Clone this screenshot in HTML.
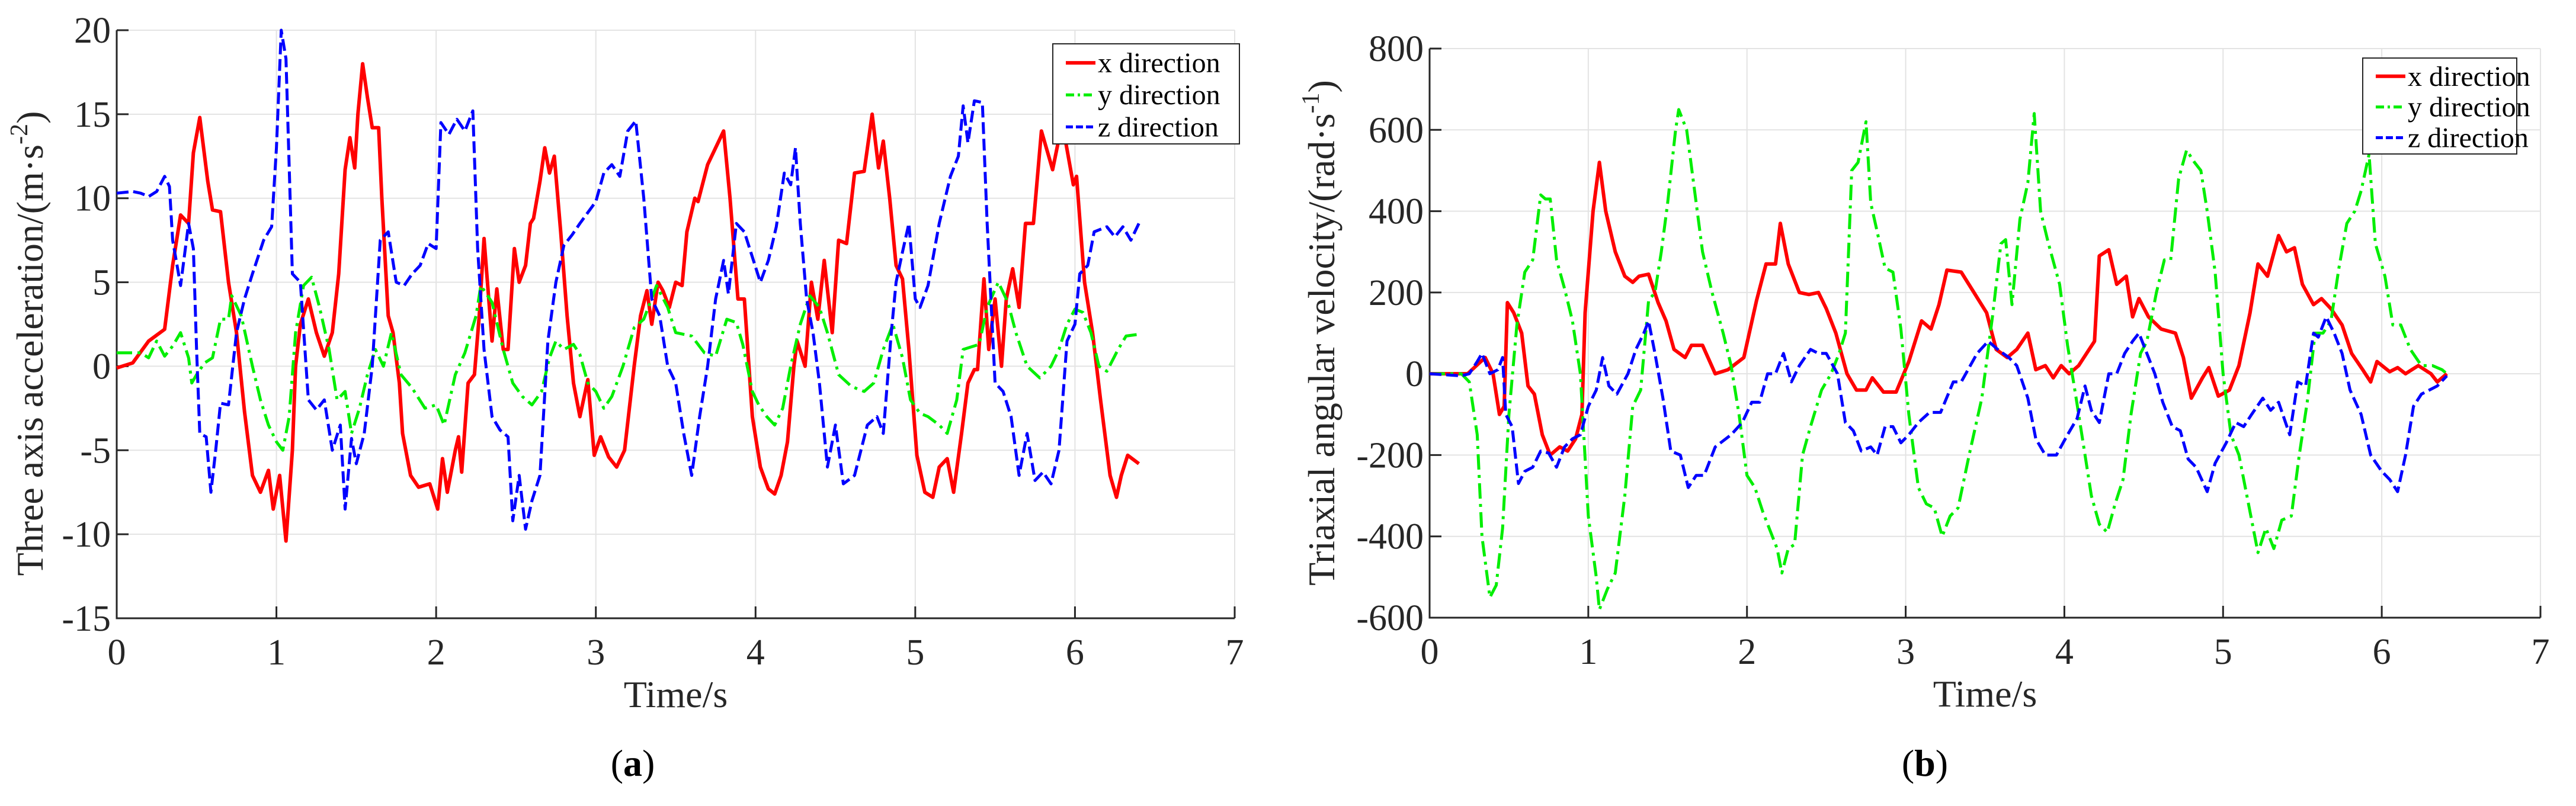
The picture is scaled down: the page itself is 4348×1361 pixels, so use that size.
<!DOCTYPE html>
<html><head><meta charset="utf-8"><style>
html,body{margin:0;padding:0;background:#fff;}
svg{display:block;font-family:"Liberation Serif",serif;}
</style></head><body>
<svg id="fig" width="4348" height="1361" viewBox="0 0 4348 1361" xmlns="http://www.w3.org/2000/svg">
<g id="chartA"></g>
<g id="chartB"></g>
<text x="1068" y="1310" font-size="64" text-anchor="middle">(<tspan font-weight="bold">a</tspan>)</text>
<text x="3249" y="1310" font-size="64" text-anchor="middle">(<tspan font-weight="bold">b</tspan>)</text>
</svg>
<script>
const xTicks = [0,1,2,3,4,5,6,7];
const aYTicks = [-15,-10,-5,0,5,10,15,20];
const bYTicks = [-600,-400,-200,0,200,400,600,800];
const seriesNames = ["x direction","y direction","z direction"];

const aXt = [0,0.1,0.2,0.3,0.35,0.4,0.45,0.48,0.52,0.57,0.6,0.65,0.7,0.75,0.8,0.85,0.9,0.95,0.98,1.02,1.06,1.1,1.12,1.15,1.2,1.25,1.3,1.35,1.39,1.43,1.46,1.49,1.51,1.54,1.57,1.6,1.64,1.66,1.7,1.73,1.77,1.79,1.84,1.89,1.96,2.01,2.04,2.07,2.12,2.14,2.16,2.2,2.24,2.27,2.3,2.35,2.38,2.42,2.45,2.49,2.52,2.56,2.59,2.61,2.65,2.68,2.71,2.74,2.78,2.82,2.86,2.9,2.95,2.99,3.03,3.08,3.13,3.18,3.24,3.28,3.32,3.35,3.39,3.42,3.46,3.5,3.54,3.57,3.62,3.64,3.7,3.75,3.8,3.84,3.89,3.93,3.98,4.03,4.08,4.12,4.16,4.2,4.24,4.26,4.31,4.35,4.39,4.43,4.48,4.52,4.57,4.62,4.68,4.73,4.77,4.8,4.84,4.88,4.92,4.96,5.01,5.06,5.11,5.15,5.2,5.24,5.29,5.33,5.37,5.39,5.43,5.46,5.5,5.54,5.57,5.61,5.65,5.69,5.74,5.79,5.86,5.92,5.99,6.01,6.06,6.11,6.16,6.22,6.26,6.29,6.33,6.4];
const aXv = [-0.1,0.2,1.5,2.2,6,9,8.5,12.7,14.8,11,9.3,9.2,5,2,-2.7,-6.5,-7.5,-6.2,-8.5,-6.5,-10.4,-5,0,2.5,4,2,0.6,2,5.5,11.7,13.6,11.8,15,18,16,14.2,14.2,10,3,2,-1,-4,-6.5,-7.2,-7,-8.5,-5.5,-7.5,-5,-4.2,-6.3,-1,-0.5,3,7.6,1.5,4.6,1,1,7,5,6,8.5,8.8,11,13,11.5,12.5,8,3,-1,-3,-0.8,-5.3,-4.2,-5.4,-6,-5,0,3,4.5,2.5,5,4.5,3.5,5,4.8,8,10,9.8,12,13,14,10,4,4,-3,-6,-7.3,-7.6,-6.5,-4.5,0,1.5,0,5,2.8,6.3,2,7.5,7.3,11.5,11.6,15,11.8,13.4,10,6,5.2,1,-5.3,-7.5,-7.8,-6,-5.5,-7.5,-4,-1,-0.2,-0.2,5.2,1,4,0,4,5.8,3.5,8.5,8.5,14,11.7,14.5,10.8,11.3,5,2,-2,-6.5,-7.8,-6.5,-5.3,-5.8,-5.7];
const aYt = [0,0.15,0.2,0.25,0.3,0.35,0.4,0.45,0.47,0.5,0.55,0.6,0.65,0.7,0.72,0.78,0.85,0.9,0.95,1.0,1.04,1.08,1.12,1.17,1.22,1.27,1.33,1.38,1.43,1.47,1.52,1.57,1.62,1.67,1.72,1.78,1.85,1.93,2.0,2.05,2.12,2.18,2.25,2.28,2.35,2.42,2.48,2.54,2.6,2.66,2.71,2.75,2.8,2.86,2.9,2.95,3.0,3.05,3.1,3.17,3.24,3.3,3.38,3.45,3.5,3.6,3.68,3.75,3.82,3.88,3.92,3.98,4.02,4.07,4.12,4.17,4.22,4.28,4.34,4.4,4.45,4.52,4.6,4.68,4.74,4.8,4.86,4.92,4.97,5.03,5.08,5.15,5.2,5.26,5.3,5.4,5.45,5.52,5.58,5.63,5.7,5.78,5.85,5.9,5.95,6.0,6.05,6.1,6.15,6.2,6.27,6.32,6.4];
const aYv = [0.8,0.8,0.5,1.5,0.6,1.2,2,0.5,-1,-0.5,0.2,0.5,2.8,2.8,4.2,3,0,-2,-3.5,-4.5,-5,-3,2,4.8,5.3,3.5,1,-2,-1.5,-4,-2.5,-0.5,1,0,2,-0.5,-1.3,-2.5,-2.3,-3.5,-0.5,0.8,3,4.8,3.8,1,-1,-1.8,-2.3,-1.5,0.5,1.5,1,1.3,0.7,-1,-1.5,-2.5,-1.8,0,2.3,2.8,4.8,3.5,2,1.8,0.8,0.6,2.8,2.6,1.3,-1.5,-2.3,-3,-3.5,-2.5,0,2.5,4.2,3.5,2,-0.5,-1.2,-1.5,-1,1,2.5,0.5,-2,-2.8,-3,-3.5,-4,-2,1,1.3,3.5,5,3.8,2,0,-0.7,0,1,2.5,3.4,3.2,2,0,-0.3,1,1.8,1.9];
const aZt = [0,0.1,0.15,0.2,0.25,0.3,0.33,0.35,0.4,0.45,0.48,0.5,0.52,0.56,0.59,0.62,0.65,0.7,0.75,0.8,0.85,0.92,0.97,1.0,1.03,1.06,1.1,1.15,1.2,1.25,1.3,1.35,1.4,1.43,1.47,1.5,1.55,1.6,1.65,1.7,1.75,1.8,1.85,1.9,1.95,2.0,2.03,2.08,2.13,2.18,2.23,2.26,2.3,2.35,2.4,2.45,2.48,2.52,2.56,2.6,2.65,2.7,2.75,2.8,2.85,2.9,3.0,3.05,3.1,3.15,3.2,3.25,3.3,3.35,3.4,3.45,3.5,3.55,3.6,3.65,3.7,3.75,3.8,3.83,3.88,3.93,3.98,4.03,4.08,4.13,4.18,4.22,4.25,4.28,4.32,4.36,4.4,4.45,4.5,4.55,4.62,4.7,4.76,4.8,4.85,4.88,4.92,4.96,5.0,5.03,5.08,5.15,5.22,5.27,5.3,5.33,5.37,5.42,5.45,5.5,5.55,5.6,5.65,5.7,5.75,5.8,5.85,5.9,5.95,6.0,6.03,6.08,6.12,6.2,6.25,6.3,6.35,6.4];
const aZv = [10.3,10.4,10.3,10.1,10.4,11.3,10.7,7.5,4.8,8.5,7,1,-4,-4.2,-7.5,-5,-2.2,-2.3,2,4,5.5,7.5,8.3,13,20,18.3,5.5,5,-2,-2.6,-2,-5,-3.5,-8.5,-4.3,-5.8,-4,0,7.5,8,5,4.8,5.5,6,7.3,7,14.5,13.8,14.7,14,15.2,7,1,-3,-3.8,-4.2,-9.2,-6.5,-9.7,-8,-6.5,1.5,5,7.2,7.8,8.5,9.8,11.5,12,11.3,14,14.6,10,4,3,0,-1,-4,-6.5,-3,0,4,6.3,4.3,8.5,8,6.5,5,6.3,8.3,11.5,10.8,13,8.5,4,2,-1,-6,-3.5,-7,-6.5,-3.5,-3,-4,2,5,6.8,8.5,4,3.5,4.8,8.5,11.3,12.5,15.5,13.3,15.8,15.7,8.5,-1,-1.5,-3,-6.5,-4,-6.8,-6.3,-7,-5,1.5,2.5,5.5,6,8,8.3,7.7,8.3,7.5,8.5];

const bXt = [0,0.24,0.35,0.4,0.44,0.47,0.49,0.53,0.58,0.62,0.66,0.71,0.76,0.82,0.87,0.92,0.96,0.98,1.03,1.07,1.11,1.17,1.23,1.28,1.32,1.38,1.44,1.49,1.54,1.61,1.65,1.72,1.8,1.88,1.98,2.06,2.12,2.18,2.21,2.26,2.33,2.39,2.45,2.5,2.56,2.63,2.69,2.75,2.79,2.86,2.94,3.02,3.1,3.16,3.21,3.26,3.35,3.43,3.51,3.57,3.64,3.7,3.77,3.82,3.88,3.93,3.98,4.03,4.09,4.14,4.19,4.22,4.28,4.33,4.39,4.43,4.47,4.53,4.61,4.7,4.75,4.8,4.87,4.91,4.97,5.04,5.1,5.17,5.22,5.28,5.35,5.4,5.45,5.5,5.57,5.62,5.68,5.75,5.81,5.88,5.93,5.97,6.05,6.1,6.15,6.23,6.31,6.35,6.41];
const bXv = [0,0,40,0,-100,-80,175,150,100,-30,-50,-150,-200,-180,-190,-160,-100,150,400,520,400,300,240,225,240,245,175,130,60,40,70,70,0,10,40,180,270,270,370,270,200,195,200,160,100,0,-40,-40,-10,-45,-45,30,130,110,170,255,250,200,150,60,40,60,100,10,20,-10,20,0,20,50,80,290,305,220,240,140,185,140,110,100,40,-60,-10,15,-55,-40,20,150,270,240,340,300,310,220,170,185,160,120,50,10,-20,30,5,15,0,20,0,-20,0];
const bYt = [0,0.2,0.25,0.3,0.33,0.38,0.42,0.46,0.5,0.55,0.6,0.65,0.7,0.73,0.76,0.8,0.85,0.9,0.95,1.0,1.05,1.07,1.12,1.17,1.23,1.28,1.33,1.38,1.42,1.46,1.5,1.55,1.57,1.62,1.67,1.72,1.78,1.85,1.9,1.95,2.0,2.05,2.1,2.15,2.19,2.22,2.26,2.3,2.35,2.4,2.47,2.53,2.58,2.62,2.66,2.7,2.75,2.78,2.82,2.87,2.92,2.97,3.02,3.08,3.13,3.18,3.23,3.28,3.33,3.4,3.48,3.55,3.6,3.63,3.67,3.72,3.77,3.81,3.85,3.9,3.97,4.02,4.07,4.13,4.17,4.22,4.27,4.32,4.37,4.42,4.48,4.52,4.58,4.63,4.67,4.72,4.77,4.82,4.86,4.9,4.95,5.0,5.05,5.1,5.15,5.22,5.27,5.32,5.37,5.43,5.48,5.53,5.58,5.63,5.68,5.73,5.78,5.83,5.87,5.92,5.96,6.02,6.07,6.12,6.18,6.25,6.32,6.38,6.41];
const bYv = [0,0,-20,-150,-400,-550,-520,-380,-100,120,250,280,440,430,430,280,210,130,0,-350,-500,-580,-530,-490,-300,-80,-40,180,200,300,420,600,650,600,450,300,200,100,20,-100,-250,-280,-340,-390,-430,-490,-430,-420,-200,-130,-40,0,50,100,500,520,620,420,350,260,250,110,-100,-280,-320,-330,-400,-350,-330,-200,-60,150,320,330,170,380,470,640,400,320,220,70,-50,-200,-300,-370,-390,-320,-260,-100,50,80,200,280,280,480,550,520,500,400,250,0,-150,-200,-300,-440,-380,-430,-360,-350,-200,-70,100,100,130,260,370,400,450,540,320,240,120,120,60,20,20,10,0];
const bZt = [0,0.2,0.25,0.3,0.33,0.38,0.43,0.46,0.48,0.52,0.56,0.6,0.65,0.7,0.75,0.8,0.85,0.9,0.95,1.0,1.05,1.09,1.13,1.18,1.25,1.3,1.35,1.38,1.42,1.47,1.52,1.58,1.63,1.68,1.73,1.8,1.9,1.97,2.03,2.08,2.13,2.18,2.23,2.28,2.33,2.4,2.45,2.5,2.57,2.62,2.67,2.72,2.78,2.82,2.87,2.92,2.97,3.02,3.08,3.15,3.22,3.3,3.35,3.45,3.52,3.58,3.65,3.7,3.77,3.82,3.88,3.95,4.02,4.08,4.13,4.17,4.22,4.28,4.33,4.38,4.43,4.47,4.52,4.57,4.62,4.68,4.73,4.78,4.83,4.9,4.95,5.02,5.08,5.13,5.18,5.25,5.3,5.35,5.42,5.47,5.52,5.57,5.6,5.65,5.7,5.75,5.8,5.87,5.93,6.0,6.05,6.1,6.15,6.2,6.25,6.3,6.35,6.41];
const bZv = [0,-5,0,30,50,0,10,40,-100,-130,-270,-240,-230,-190,-195,-230,-180,-160,-150,-80,-40,40,-30,-50,0,60,100,130,50,-60,-190,-200,-280,-250,-250,-180,-150,-120,-70,-70,0,0,50,-20,20,60,50,50,0,-120,-140,-190,-180,-200,-130,-130,-170,-150,-120,-95,-95,-20,-20,50,80,60,40,20,-60,-160,-200,-200,-150,-110,-30,-90,-120,0,0,50,80,100,50,0,-70,-130,-140,-210,-230,-290,-220,-170,-120,-130,-100,-60,-90,-70,-150,-20,-30,100,90,140,100,50,-40,-100,-200,-240,-260,-290,-200,-80,-50,-40,-30,-5];

const NS = "http://www.w3.org/2000/svg";
const colors = ["#ff0000","#00ee00","#0000ff"];
const dashes = ["", "26 9 5 9", "20 8"];
const widths = [6,5,5];

function mk(parent, tag, attrs) {
  const el = document.createElementNS(NS, tag);
  for (const k in attrs) el.setAttribute(k, attrs[k]);
  parent.appendChild(el);
  return el;
}

function drawChart(gid, box, yTicks, series, ylabel, legendBox, labelPos) {
  const g = document.getElementById(gid);
  const ymin = yTicks[0], ymax = yTicks[yTicks.length - 1];
  const sx = t => box.x0 + (t - 0) / 7 * (box.x1 - box.x0);
  const sy = v => box.y1 - (v - ymin) / (ymax - ymin) * (box.y1 - box.y0);
  for (const t of xTicks) {
    const l = mk(g, "line", {x1: sx(t), x2: sx(t), y1: box.y0, y2: box.y1, stroke: "#e3e3e3", "stroke-width": 2});
    
    
  }
  for (const v of yTicks) {
    const l = mk(g, "line", {x1: box.x0, x2: box.x1, y1: sy(v), y2: sy(v), stroke: "#e3e3e3", "stroke-width": 2});
    
    
  }
  const ax = mk(g, "path", {d: `M${box.x0} ${box.y0} V${box.y1} H${box.x1}`, fill: "none", stroke: "#262626", "stroke-width": 3});
  
  
  for (const t of xTicks) {
    const tk = mk(g, "line", {x1: sx(t), x2: sx(t), y1: box.y1, y2: box.y1 - 20, stroke: "#262626", "stroke-width": 3});
    
    
    const tx = mk(g, "text", {x: sx(t), y: box.y1 + 78, "font-size": 62, "text-anchor": "middle", fill: "#262626"});
    tx.textContent = t;
    
    
  }
  for (const v of yTicks) {
    const tk = mk(g, "line", {x1: box.x0, x2: box.x0 + 20, y1: sy(v), y2: sy(v), stroke: "#262626", "stroke-width": 3});
    
    
    const tx = mk(g, "text", {x: box.x0 - 10, y: sy(v) + 21, "font-size": 62, "text-anchor": "end", fill: "#262626"});
    tx.textContent = v;
    
    
  }
  series.forEach((s, i) => {
    const n = Math.min(s.t.length, s.v.length);
    let d = "";
    for (let k = 0; k < n; k++) d += (k ? "L" : "M") + sx(s.t[k]).toFixed(1) + " " + sy(s.v[k]).toFixed(1);
    const p = mk(g, "path", {d: d, fill: "none", stroke: colors[i], "stroke-width": widths[i], "stroke-linejoin": "round"});
    if (dashes[i]) p.setAttribute("stroke-dasharray", dashes[i]);
    
    
  });
  const xl = mk(g, "text", {x: (box.x0 + box.x1) / 2, y: box.y1 + 150, "font-size": 64, "text-anchor": "middle", fill: "#262626"});
  xl.textContent = "Time/s";
  
  
  const yl = mk(g, "text", {x: 0, y: 0, "font-size": 64, "text-anchor": "middle", fill: "#262626", transform: `translate(${labelPos[0]},${labelPos[1]}) rotate(-90)`});
  yl.innerHTML = ylabel;
  
  
  const lg = mk(g, "g", {});
  
  
  mk(lg, "rect", {x: legendBox.x, y: legendBox.y, width: legendBox.w, height: legendBox.h, fill: "#fff", stroke: "#262626", "stroke-width": 2});
  seriesNames.forEach((nm, i) => {
    const yy = legendBox.y + legendBox.h * (0.19 + 0.32 * i);
    const ln = mk(lg, "line", {x1: legendBox.x + 22, x2: legendBox.x + 72, y1: yy, y2: yy, stroke: colors[i], "stroke-width": widths[i]});
    if (dashes[i]) ln.setAttribute("stroke-dasharray", i === 1 ? "14 6 4 6" : "12 5");
    
    
    const tx = mk(lg, "text", {x: legendBox.x + 76, y: yy + 16, "font-size": 48, fill: "#000"});
    tx.textContent = nm;
    
    
  });
}

drawChart("chartA", {x0: 197, x1: 2084, y0: 51, y1: 1044}, aYTicks,
  [{t: aXt, v: aXv}, {t: aYt, v: aYv}, {t: aZt, v: aZv}],
  'Three axis acceleration/(m·s<tspan dy="-26" font-size="42">-2</tspan><tspan dy="26">)</tspan>',
  {x: 1777, y: 74, w: 315, h: 169}, [72, 580]);
drawChart("chartB", {x0: 2413, x1: 4288, y0: 82, y1: 1043}, bYTicks,
  [{t: bXt, v: bXv}, {t: bYt, v: bYv}, {t: bZt, v: bZv}],
  'Triaxial angular velocity/(rad·s<tspan dy="-26" font-size="42">-1</tspan><tspan dy="26">)</tspan>',
  {x: 3988, y: 98, w: 260, h: 162}, [2252, 562]);
</script>
</body></html>
